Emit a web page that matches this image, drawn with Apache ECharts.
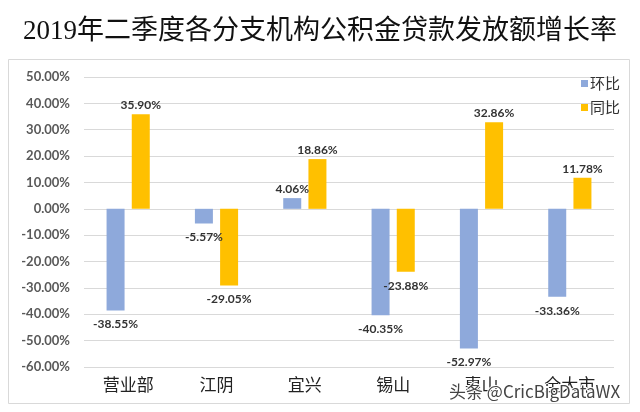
<!DOCTYPE html>
<html>
<head>
<meta charset="utf-8">
<script src="https://cdn.jsdelivr.net/npm/echarts@6/dist/echarts.min.js"></script>
<style>
html,body{margin:0;padding:0;background:#fff;}
#chart{width:640px;height:412px;}
</style>
</head>
<body>
<div id="chart"></div>
<script>
var titleText = '2019年二季度各分支机构公积金贷款发放额增长率';
var categories = ['营业部', '江阴', '宜兴', '锡山', '惠山', '全大市'];
var seriesNames = ['环比', '同比'];
var huanbi = [-38.55, -5.57, 4.06, -40.35, -52.97, -33.36];
var tongbi = [35.90, -29.05, 18.86, -23.88, 32.86, 11.78];
var watermark = '头条 @CricBigDataWX';

var colors = ['#8EA9DB', '#FFC000'];

function toItems(arr) {
  return arr.map(function (v) {
    return { value: v, label: { distance: v < 0 ? 8 : 3 } };
  });
}

var labelStyle = {
  show: true,
  position: 'outside',
  formatter: function (p) { return p.value.toFixed(2) + '%'; },
  fontFamily: 'Lato, "Liberation Sans", sans-serif',
  fontWeight: 'bold',
  fontSize: 12,
  color: '#333'
};

var chart = echarts.init(document.getElementById('chart'), null, { renderer: 'canvas' });
chart.setOption({
  backgroundColor: '#fff',
  animation: false,
  title: {
    text: titleText,
    left: 'center',
    top: 13,
    textStyle: {
      fontFamily: '"Liberation Serif", "Noto Sans CJK SC", serif',
      fontWeight: 'normal',
      fontSize: 27,
      color: '#111'
    }
  },
  graphic: [
    { type: 'rect', shape: { x: 8.5, y: 59.5, width: 621, height: 344 }, style: { fill: 'none', stroke: '#d9d9d9', lineWidth: 1 }, z: 0 },
    { type: 'text', left: 448, top: 382, z: 100, style: { text: watermark, fontFamily: '"Noto Sans CJK SC", sans-serif', fontSize: 17, fill: '#444', stroke: '#fff', lineWidth: 2 } }
  ],
  legend: {
    orient: 'vertical',
    left: 576,
    top: 71,
    itemWidth: 7,
    itemHeight: 7,
    itemGap: 9,
    icon: 'rect',
    data: seriesNames,
    textStyle: { fontFamily: '"Noto Sans CJK SC", sans-serif', fontSize: 15, color: '#333', padding: [0, 0, 0, -3] }
  },
  grid: { left: 84, right: 26, top: 77, bottom: 45, containLabel: false },
  xAxis: {
    type: 'category',
    data: categories,
    axisLine: { show: false },
    axisTick: { show: false },
    axisLabel: { margin: 9, fontFamily: '"Noto Sans CJK SC", sans-serif', fontSize: 17, color: '#222' }
  },
  yAxis: {
    type: 'value',
    min: -60,
    max: 50,
    interval: 10,
    axisLine: { show: false },
    axisTick: { show: false },
    splitLine: { lineStyle: { color: '#d9d9d9', width: 1 } },
    axisLabel: {
      margin: 14,
      formatter: function (v) { return v.toFixed(2) + '%'; },
      fontFamily: 'Lato, "Liberation Sans", sans-serif',
      fontWeight: 'bold',
      fontSize: 13,
      color: '#595959'
    }
  },
  series: [
    { name: seriesNames[0], type: 'bar', data: toItems(huanbi), barWidth: 18, barGap: '40%', itemStyle: { color: colors[0] }, label: labelStyle },
    { name: seriesNames[1], type: 'bar', data: toItems(tongbi), barWidth: 18, barGap: '40%', itemStyle: { color: colors[1] }, label: labelStyle }
  ]
});
</script>
</body>
</html>
